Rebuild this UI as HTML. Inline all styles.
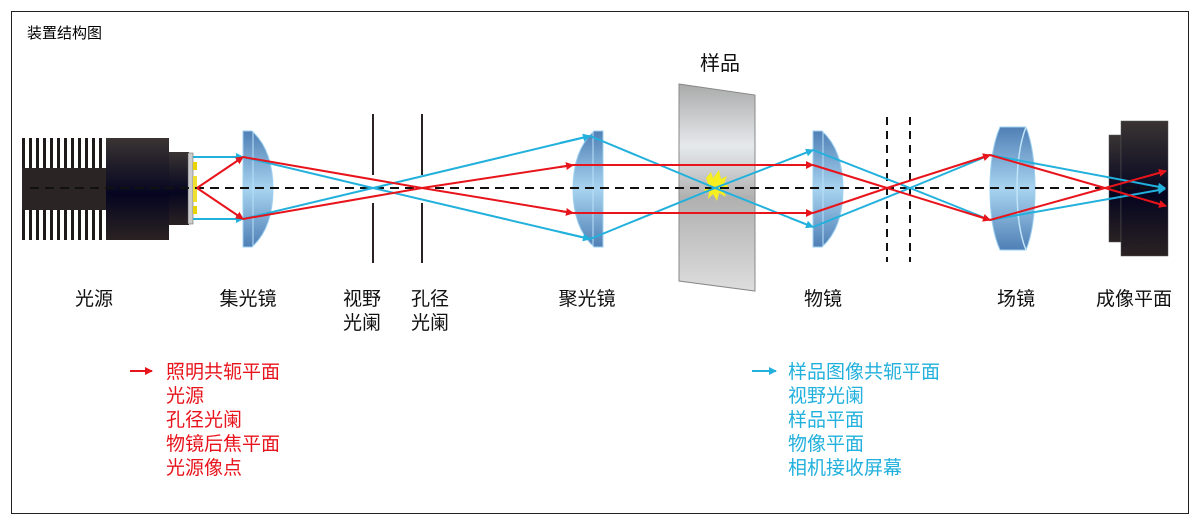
<!DOCTYPE html><html><head><meta charset="utf-8"><style>body{margin:0;background:#fff}svg{display:block}text{font-family:"Liberation Sans","Noto Sans CJK SC",sans-serif}</style></head><body>
<svg width="1200" height="521" viewBox="0 0 1200 521">
<defs>
<linearGradient id="blk" x1="0" y1="0" x2="0" y2="1"><stop offset="0" stop-color="#3a3433"/><stop offset=".55" stop-color="#050520"/><stop offset="1" stop-color="#2a2222"/></linearGradient>
<linearGradient id="lens" x1="0" y1="0" x2="0" y2="1"><stop offset="0" stop-color="#4f7fb5"/><stop offset=".5" stop-color="#a8d4f0"/><stop offset="1" stop-color="#4f7fb5"/></linearGradient>
<linearGradient id="gl" x1="0" y1="0" x2="0" y2="1"><stop offset="0" stop-color="#aaa"/><stop offset=".3" stop-color="#e6e9ec"/><stop offset=".55" stop-color="#b0b0b0"/><stop offset="1" stop-color="#ddd"/></linearGradient>
<marker id="ar" markerWidth="8" markerHeight="8" refX="7" refY="4" orient="auto" markerUnits="userSpaceOnUse"><path d="M0,0L8,4L0,8z" fill="#e8141c"/></marker>
<marker id="ab" markerWidth="8" markerHeight="8" refX="7" refY="4" orient="auto" markerUnits="userSpaceOnUse"><path d="M0,0L8,4L0,8z" fill="#22b0dc"/></marker>
</defs>
<rect x="11.5" y="11.5" width="1177" height="502" fill="none" stroke="#222"/>
<text x="27" y="38" font-size="15">装置结构图</text>
<g fill="#1e1a1a">
<rect x="22" y="138" width="3" height="102"/><rect x="29" y="138" width="3" height="102"/><rect x="36" y="138" width="3" height="102"/><rect x="43" y="138" width="3" height="102"/><rect x="50" y="138" width="3" height="102"/><rect x="57" y="138" width="3" height="102"/><rect x="64" y="138" width="3" height="102"/><rect x="71" y="138" width="3" height="102"/><rect x="78" y="138" width="3" height="102"/><rect x="85" y="138" width="3" height="102"/><rect x="92" y="138" width="3" height="102"/><rect x="99" y="138" width="3" height="102"/>
<rect x="22" y="168" width="84" height="42" fill="#2a2424"/>
</g>
<rect x="106" y="138" width="63" height="102" fill="url(#blk)"/>
<rect x="169" y="152" width="20" height="73" fill="url(#blk)"/>
<rect x="188" y="153" width="5" height="71" fill="#ccc" stroke="#555" stroke-width=".5"/>
<rect x="193" y="162" width="4" height="8" fill="#e8d400"/><rect x="193" y="176" width="4" height="26" fill="#f0e030"/><rect x="193" y="206" width="4" height="8" fill="#e8d400"/>
<path d="M243,131 L252,131 Q273,150 273,189 Q273,228 252,247 L243,247Z" fill="url(#lens)" stroke="#9cd0f0"/>
<line x1="253" y1="132" x2="253" y2="246" stroke="#b8e0f8"/>
<g stroke="#2a2222" stroke-width="2"><line x1="373" y1="114" x2="373" y2="175"/><line x1="373" y1="203" x2="373" y2="263"/><line x1="422" y1="114" x2="422" y2="175"/><line x1="422" y1="203" x2="422" y2="263"/></g>
<path d="M603,131 L594,131 Q573,150 573,189 Q573,228 594,247 L603,247Z" fill="url(#lens)" stroke="#9cd0f0"/>
<line x1="593" y1="132" x2="593" y2="246" stroke="#b8e0f8"/>
<polygon points="679,84 755,95 755,291 679,281" fill="url(#gl)" stroke="#888"/>
<path d="M706,178l5,-6l2,6l6,-8l2,9l6,-3l-3,8l5,2l-6,3l3,8l-7,-4l-2,8l-4,-7l-5,5l1,-7l-6,-2l6,-3z" fill="#f5ee20"/>
<path d="M813,131 L822,131 Q843,150 843,189 Q843,228 822,247 L813,247Z" fill="url(#lens)" stroke="#9cd0f0"/>
<line x1="823" y1="132" x2="823" y2="246" stroke="#b8e0f8"/>
<g stroke="#111" stroke-width="2" stroke-dasharray="8,6"><line x1="887" y1="117" x2="887" y2="262"/><line x1="910" y1="117" x2="910" y2="262"/></g>
<path d="M1000,127 L1026,127 Q1035,150 1035,189 Q1035,228 1026,250 L1000,250 Q990,228 990,189 Q990,150 1000,127Z" fill="url(#lens)" stroke="#9cd0f0"/>
<path d="M1026,127 Q1017,150 1017,189 Q1017,228 1026,250" fill="none" stroke="#c0e4f8" stroke-width="1.5"/>
<rect x="1109" y="135" width="12" height="107" fill="url(#blk)" stroke="#555" stroke-width=".5"/>
<rect x="1121" y="121" width="47" height="135" fill="url(#blk)" stroke="#555" stroke-width=".5"/>
<line x1="30" y1="188" x2="1165" y2="188" stroke="#111" stroke-width="2" stroke-dasharray="9,6"/>
<g fill="none" stroke="#22b0dc" stroke-width="2">
<line x1="193" y1="157" x2="243" y2="157" marker-end="url(#ab)"/>
<line x1="193" y1="219" x2="243" y2="219" marker-end="url(#ab)"/>
<polyline points="243,157 373,188 590,239"/>
<polyline points="243,219 373,188 590,136"/>
<line x1="560" y1="143" x2="590" y2="136" marker-end="url(#ab)"/>
<line x1="560" y1="232" x2="590" y2="239" marker-end="url(#ab)"/>
<polyline points="590,136 715,188 813,227"/><polyline points="590,239 715,188 813,150"/>
<line x1="790" y1="218" x2="813" y2="227" marker-end="url(#ab)"/><line x1="790" y1="159" x2="813" y2="150" marker-end="url(#ab)"/>
<polyline points="813,150 910,188 990,220"/><polyline points="813,227 910,188 990,155"/>
<polyline points="990,155 1165,188" marker-end="url(#ab)"/><polyline points="990,220 1165,189" marker-end="url(#ab)"/>
</g>
<g fill="none" stroke="#e8141c" stroke-width="2">
<line x1="197" y1="188" x2="243" y2="157" marker-end="url(#ar)"/>
<line x1="197" y1="188" x2="243" y2="219" marker-end="url(#ar)"/>
<polyline points="243,157 422,188 573,213"/><polyline points="243,219 422,188 573,165"/>
<line x1="560" y1="211" x2="573" y2="213" marker-end="url(#ar)"/><line x1="560" y1="167" x2="573" y2="165" marker-end="url(#ar)"/>
<line x1="573" y1="213" x2="813" y2="213" marker-end="url(#ar)"/><line x1="573" y1="165" x2="813" y2="165" marker-end="url(#ar)"/>
<polyline points="813,213 887,188 990,155"/><polyline points="813,165 887,188 990,220"/>
<line x1="975" y1="160" x2="990" y2="155" marker-end="url(#ar)"/><line x1="975" y1="215" x2="990" y2="220" marker-end="url(#ar)"/>
<polyline points="990,155 1105,188 1166,206" marker-end="url(#ar)"/><polyline points="990,220 1105,188 1166,171" marker-end="url(#ar)"/>
</g>
<g font-size="19" fill="#111" text-anchor="middle">
<text x="720" y="70" font-size="20">样品</text>
<text x="94" y="305">光源</text><text x="248" y="305">集光镜</text>
<text x="362" y="305">视野</text><text x="362" y="329">光阑</text>
<text x="430" y="305">孔径</text><text x="430" y="329">光阑</text>
<text x="587" y="305">聚光镜</text><text x="823" y="305">物镜</text>
<text x="1016" y="305">场镜</text><text x="1134" y="305">成像平面</text>
</g>
<line x1="130" y1="371" x2="152" y2="371" stroke="#e8141c" stroke-width="2" marker-end="url(#ar)"/>
<g font-size="19" fill="#e8141c"><text x="166" y="378">照明共轭平面</text><text x="166" y="402">光源</text><text x="166" y="426">孔径光阑</text><text x="166" y="450">物镜后焦平面</text><text x="166" y="474">光源像点</text></g>
<line x1="752" y1="371" x2="776" y2="371" stroke="#22b0dc" stroke-width="2" marker-end="url(#ab)"/>
<g font-size="19" fill="#22b0dc"><text x="788" y="378">样品图像共轭平面</text><text x="788" y="402">视野光阑</text><text x="788" y="426">样品平面</text><text x="788" y="450">物像平面</text><text x="788" y="474">相机接收屏幕</text></g>
</svg>
</body></html>
